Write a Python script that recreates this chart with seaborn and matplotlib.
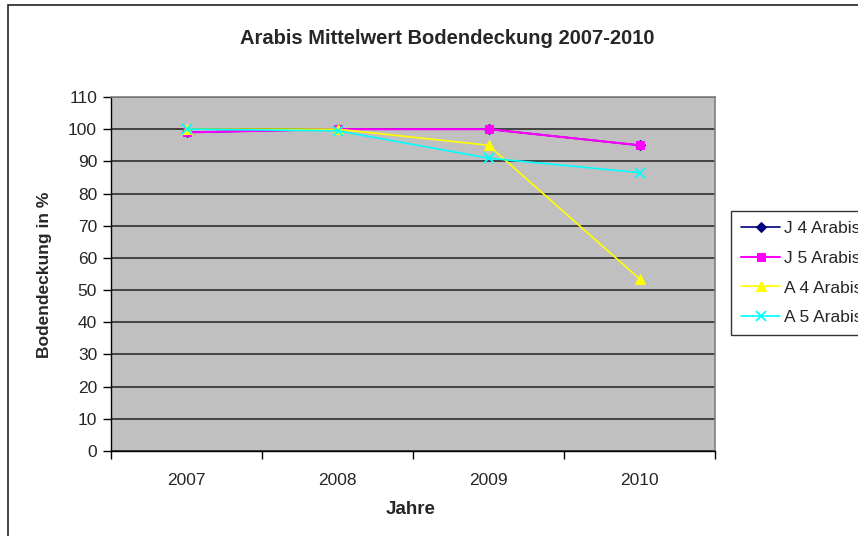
import pandas as pd
import numpy as np
import matplotlib.pyplot as plt
import seaborn as sns
from matplotlib.patches import Rectangle

# Werte
years = ['2007', '2008', '2009', '2010']
j4_arabis = [99, 100, 100, 95]
j5_arabis = [99, 100, 100, 95]
a4_arabis = [100, 100, 95, 53.5]
a5_arabis = [100, 99.5, 91, 86.5]
series_names = ['J 4 Arabis', 'J 5 Arabis', 'A 4 Arabis', 'A 5 Arabis']

df = pd.DataFrame({
    'pos': list(range(len(years))) * 4,
    'value': j4_arabis + j5_arabis + a4_arabis + a5_arabis,
    'series': np.repeat(series_names, len(years)),
})

sns.set_style('white')
plt.rcParams['font.family'] = ['Liberation Sans', 'DejaVu Sans']

fig = plt.figure(figsize=(8.58, 5.36), dpi=100)
ax = fig.add_axes([111 / 858, 1 - 451 / 536, 604 / 858, 354 / 536])
ax.set_facecolor('#C0C0C0')

# Rahmen um das Diagramm
fig.patches.append(Rectangle((8 / 858, -0.1), 1.1, 1 - 5 / 536 + 0.1,
                             transform=fig.transFigure, fill=False,
                             edgecolor='#222222', linewidth=1.2))

styles = {
    'J 4 Arabis': dict(color='#000080', marker='D', markersize=5, linewidth=1.2),
    'J 5 Arabis': dict(color='#FF00FF', marker='s', markersize=6, linewidth=1.5),
    'A 4 Arabis': dict(color='#FFFF00', marker='^', markersize=7, linewidth=1.2),
    'A 5 Arabis': dict(color='#00FFFF', marker='x', markersize=7, linewidth=1.2,
                       markeredgewidth=1.3),
}

for name in series_names:
    sub = df[df['series'] == name]
    sns.lineplot(data=sub, x='pos', y='value', ax=ax, label=name,
                 markeredgecolor=styles[name]['color'], **styles[name])

ax.set_ylim(0, 110)
ax.set_xlim(-0.5, len(years) - 0.5)
ax.set_yticks(range(0, 111, 10))
ax.yaxis.grid(True, color='#222222', linewidth=1.1)
ax.set_axisbelow(True)

ax.set_xticks(np.arange(-0.5, len(years), 1.0))
ax.set_xticklabels([])
ax.set_xticks(range(len(years)), minor=True)
ax.set_xticklabels(years, minor=True)
ax.tick_params(axis='x', which='major', direction='out', length=6, width=1, color='black', bottom=True)
ax.tick_params(axis='x', which='minor', length=0, pad=16, labelsize=12.5)
ax.tick_params(axis='y', direction='out', length=6, width=1, color='black', left=True, labelsize=12.5, pad=4)

for side in ['left', 'bottom']:
    ax.spines[side].set_color('black')
    ax.spines[side].set_linewidth(1)
for side in ['top', 'right']:
    ax.spines[side].set_color('#808080')
    ax.spines[side].set_linewidth(1.2)

ax.set_xlabel('Jahre', fontsize=13.5, fontweight='bold', va='center')
ax.set_ylabel('Bodendeckung in %', fontsize=12.5, fontweight='bold', va='center')
ax.xaxis.set_label_coords((411 - 111) / 604, (451 - 509) / 354)
ax.yaxis.set_label_coords((45 - 111) / 604, (451 - 275) / 354)
fig.text(447 / 858, 1 - 38 / 536, 'Arabis Mittelwert Bodendeckung 2007-2010',
         ha='center', va='center', fontsize=14.5, fontweight='bold')

handles, labels = ax.get_legend_handles_labels()
ax.get_legend().remove()
leg = fig.legend(handles, labels, loc='upper left', bbox_to_anchor=(731 / 858, 1 - 211 / 536),
                 bbox_transform=fig.transFigure, frameon=True, fancybox=False,
                 fontsize=12.5, handlelength=2.3, handletextpad=0.2,
                 labelspacing=0.85, borderpad=0.55, borderaxespad=0)
leg.get_frame().set_edgecolor('black')
leg.get_frame().set_linewidth(1)

fig.savefig('out.png', dpi=100)
